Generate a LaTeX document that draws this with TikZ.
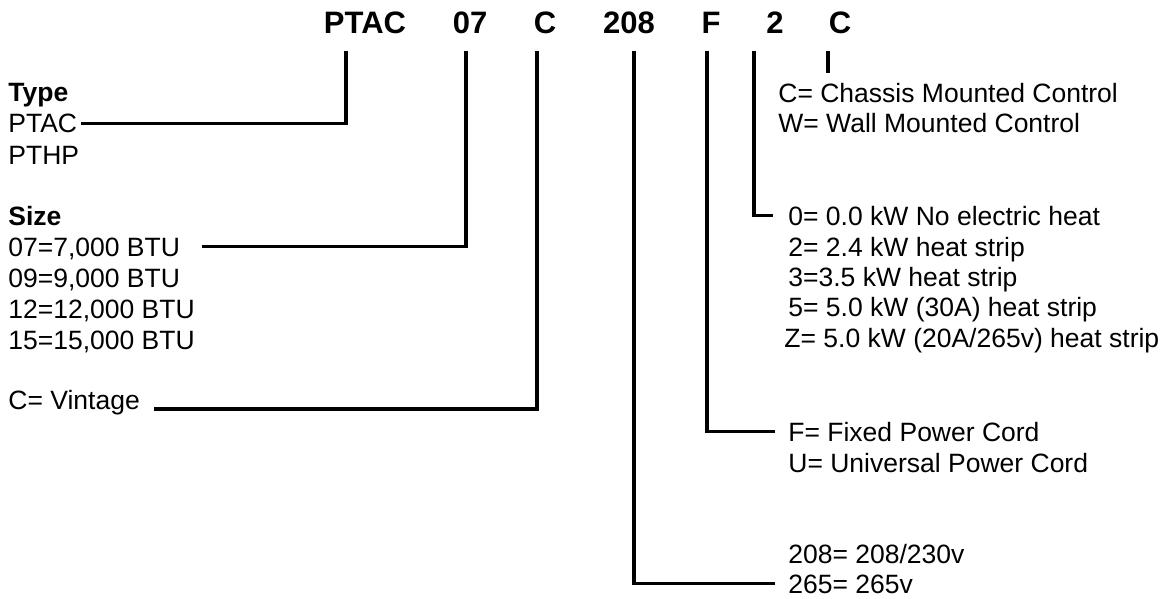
\documentclass[tikz,border=0pt]{standalone}
\usepackage{fontspec}
\setmainfont{Liberation Sans}

\tikzset{
  txt/.style={anchor=base west, inner sep=0pt, text height=9.5pt, text depth=0pt,
    font=\fontsize{13.25pt}{15.25pt}\selectfont},
  head/.style={txt, font=\fontsize{13.25pt}{15.25pt}\selectfont\bfseries},
  code/.style={anchor=base, inner sep=0pt, font=\fontsize{15.5pt}{18pt}\selectfont\bfseries},
  wire/.style={line width=1.75pt},
}

\begin{document}
\begin{tikzpicture}[x=0.5pt, y=-0.5pt]
\useasboundingbox (0,0) rectangle (1167,599);

% model number
\node[code] (cPTAC) at (365,34) {PTAC};
\node[code] (c07) at (470,34) {07};
\node[code] (cC) at (545,34) {C};
\node[code] (c208) at (629,34) {208};
\node[code] (cF) at (711,34) {F};
\node[code] (c2) at (775,34) {2};
\node[code] (cCtl) at (840,34) {C};

% left column
\node[head] (hType) at (8,102) {Type};
\node[txt] (lPTAC) at (8,133) {PTAC};
\node[txt] (lPTHP) at (8,164) {PTHP};
\node[head] (hSize) at (8,225) {Size};
\node[txt] (l07) at (8,256) {07=7,000 BTU};
\node[txt] (l09) at (8,287) {09=9,000 BTU};
\node[txt] (l12) at (8,318) {12=12,000 BTU};
\node[txt] (l15) at (8,349) {15=15,000 BTU};
\node[txt] (lVint) at (8,409) {C= Vintage};

% right column
\node[txt] (lChassis) at (778,103) {C= Chassis Mounted Control};
\node[txt] (lWall) at (778,133) {W= Wall Mounted Control};
\node[txt] (lH0) at (788,225) {0= 0.0 kW No electric heat};
\node[txt] (lH2) at (788,256) {2= 2.4 kW heat strip};
\node[txt] (lH3) at (788,286) {3=3.5 kW heat strip};
\node[txt] (lH5) at (788,316) {5= 5.0 kW (30A) heat strip};
\node[txt] (lHZ) at (784,347) {Z= 5.0 kW (20A/265v) heat strip};
\node[txt] (lFixed) at (788,441) {F= Fixed Power Cord};
\node[txt] (lUniv) at (788,472) {U= Universal Power Cord};
\node[txt] (l208) at (788,563) {208= 208/230v};
\node[txt] (l265) at (788,593) {265= 265v};

% tick tops
\coordinate (kPTAC) at (346,51);
\coordinate (k07) at (466,51);
\coordinate (kC) at (537,51);
\coordinate (k208) at (634,51);
\coordinate (kF) at (707,51);
\coordinate (k2) at (754,51);
\coordinate (kCtl) at (828,51);
\coordinate (eCtl) at (828,73);

% connectors
\draw[wire, shorten >=1.5pt] (kPTAC) |- (lPTAC);
\draw[wire, shorten >=11pt] (k07) |- (l07);
\draw[wire, shorten >=7pt] (kC) |- (lVint.base east);
\draw[wire, shorten >=6.5pt] (k208) |- (l265);
\draw[wire, shorten >=6.5pt] (kF) |- (lFixed);
\draw[wire, shorten >=7.5pt] (k2) |- (lH0);
\draw[wire] (kCtl) -- (eCtl);
\end{tikzpicture}
\end{document}
